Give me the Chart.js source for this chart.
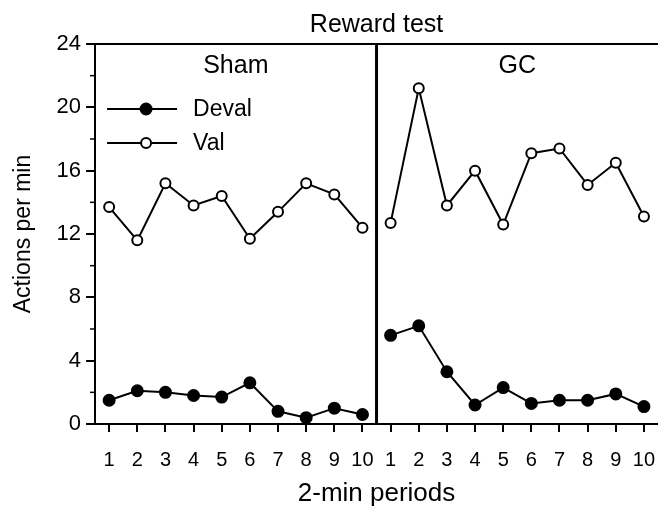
<!DOCTYPE html>
<html>
<head>
<meta charset="utf-8">
<script src="https://cdn.jsdelivr.net/npm/chart.js@4"></script>
<style>
  body { margin: 0; background: #fff; }
  #chart { display: block; }
</style>
</head>
<body>
<canvas id="chart" width="658" height="510"></canvas>
<script>
const periods = ['1', '2', '3', '4', '5', '6', '7', '8', '9', '10'];
const groups = ['Sham', 'GC'];
const shamDeval = [1.5, 2.1, 2.0, 1.8, 1.7, 2.6, 0.8, 0.4, 1.0, 0.6];
const shamVal = [13.7, 11.6, 15.2, 13.8, 14.4, 11.7, 13.4, 15.2, 14.5, 12.4];
const gcDeval = [5.6, 6.2, 3.3, 1.2, 2.3, 1.3, 1.5, 1.5, 1.9, 1.1];
const gcVal = [12.7, 21.2, 13.8, 16.0, 12.6, 17.1, 17.4, 15.1, 16.5, 13.1];
const yTicks = [0, 4, 8, 12, 16, 20, 24];
const yMinorTicks = [2, 6, 10, 14, 18, 22];

const FONT = "'Liberation Sans', Arial, Helvetica, sans-serif";
const blanks = periods.map(() => null);

// x axis runs through both panels: Sham 1-10 then GC 1-10
const labels = periods.concat(periods);

function series(label, first, second, filled) {
    return [first.concat(blanks), blanks.concat(second)].map((data, i) => ({
        label: label,
        data: data,
        borderColor: '#000',
        borderWidth: 2,
        backgroundColor: filled ? '#000' : '#fff',
        pointBackgroundColor: filled ? '#000' : '#fff',
        pointBorderColor: '#000',
        pointBorderWidth: 2,
        pointRadius: filled ? 5.5 : 5,
        spanGaps: false,
        clip: false,
        showInLegend: i === 0
    }));
}

/**
 * Panel frame, panel names, minor ticks and the in-plot legend
 */
const panelPlugin = {
    id: 'panels',
    afterDatasetsDraw(chart) {
        const { ctx, chartArea, scales } = chart;
        const x = scales.x;
        const y = scales.y;
        ctx.save();
        ctx.strokeStyle = '#000';

        // top border
        ctx.lineWidth = 2;
        ctx.beginPath();
        ctx.moveTo(chartArea.left, chartArea.top);
        ctx.lineTo(chartArea.right, chartArea.top);
        ctx.stroke();

        // thick divider between the panels
        const mid = (x.getPixelForValue(9) + x.getPixelForValue(10)) / 2;
        ctx.lineWidth = 3;
        ctx.beginPath();
        ctx.moveTo(mid, chartArea.top);
        ctx.lineTo(mid, chartArea.bottom);
        ctx.stroke();

        // minor y ticks
        ctx.lineWidth = 1.5;
        yMinorTicks.forEach(v => {
            const py = y.getPixelForValue(v);
            ctx.beginPath();
            ctx.moveTo(chartArea.left - 5, py);
            ctx.lineTo(chartArea.left, py);
            ctx.stroke();
        });

        // panel names
        ctx.fillStyle = '#000';
        ctx.font = `25px ${FONT}`;
        ctx.textAlign = 'center';
        ctx.textBaseline = 'middle';
        groups.forEach((name, i) => {
            const cx = (x.getPixelForValue(i * 10) + x.getPixelForValue(i * 10 + 9)) / 2;
            ctx.fillText(name, cx, chartArea.top + 22);
        });

        // legend inside the Sham panel
        ctx.font = `23px ${FONT}`;
        ctx.textAlign = 'left';
        const items = chart.data.datasets.filter(ds => ds.showInLegend);
        items.forEach((ds, i) => {
            const ly = chartArea.top + 65 + i * 34;
            const lx = chartArea.left + 12;
            ctx.lineWidth = 2;
            ctx.beginPath();
            ctx.moveTo(lx, ly);
            ctx.lineTo(lx + 70, ly);
            ctx.stroke();
            ctx.beginPath();
            ctx.arc(lx + 39, ly, ds.pointRadius, 0, Math.PI * 2);
            ctx.fillStyle = ds.pointBackgroundColor;
            ctx.fill();
            ctx.stroke();
            ctx.fillStyle = '#000';
            ctx.fillText(ds.label, lx + 86, ly + 1);
        });
        ctx.restore();
    }
};

new Chart(document.getElementById('chart').getContext('2d'), {
    type: 'line',
    data: {
        labels: labels,
        datasets: series('Deval', shamDeval, gcDeval, true).concat(series('Val', shamVal, gcVal, false))
    },
    options: {
        responsive: false,
        animation: false,
        layout: { autoPadding: false, padding: { left: 10, right: 0, top: 0, bottom: 0 } },
        plugins: {
            legend: { display: false },
            tooltip: { enabled: false },
            title: {
                display: true,
                text: 'Reward test',
                fullSize: false,
                color: '#000',
                font: { family: FONT, size: 25, weight: 'normal' },
                padding: { top: 10, bottom: 4 }
            }
        },
        scales: {
            x: {
                type: 'category',
                offset: true,
                afterFit(scale) {
                    // keep the axis band fixed and let the plot run to the right edge
                    scale.height = 86;
                    scale.paddingLeft = 0;
                    scale.paddingRight = 0;
                },
                grid: { display: true, drawOnChartArea: false, drawTicks: true, tickLength: 8, offset: false, color: '#000', lineWidth: 2 },
                border: { display: true, color: '#000', width: 2 },
                ticks: { color: '#000', font: { family: FONT, size: 20 }, padding: 16, maxRotation: 0, autoSkip: false },
                title: { display: true, text: '2-min periods', color: '#000', font: { family: FONT, size: 26 }, padding: { top: 4, bottom: 1 } }
            },
            y: {
                min: 0,
                max: 24,
                afterBuildTicks(scale) {
                    scale.ticks = yTicks.map(v => ({ value: v }));
                },
                grid: { display: true, drawOnChartArea: false, drawTicks: true, tickLength: 9, color: '#000', lineWidth: 2 },
                border: { display: true, color: '#000', width: 2 },
                ticks: { color: '#000', font: { family: FONT, size: 22 }, padding: 5 },
                title: { display: true, text: 'Actions per min', color: '#000', font: { family: FONT, size: 23 }, padding: { top: 0, bottom: 14 } }
            }
        }
    },
    plugins: [panelPlugin]
});
</script>
</body>
</html>
